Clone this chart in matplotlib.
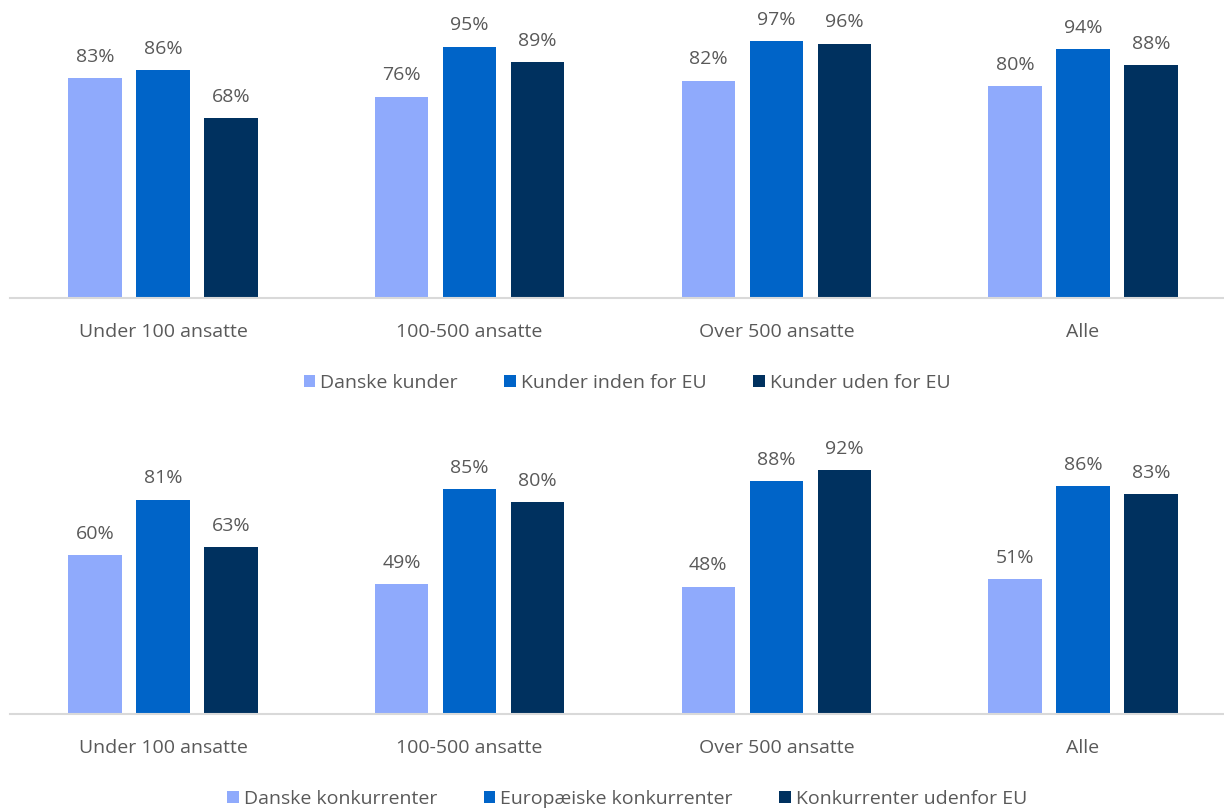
import matplotlib
matplotlib.use("Agg")
import matplotlib.pyplot as plt
import numpy as np

plt.rcParams['font.family'] = ['Open Sans', 'DejaVu Sans']

categories = ["Under 100 ansatte", "100-500 ansatte", "Over 500 ansatte", "Alle"]

top_series = ["Danske kunder", "Kunder inden for EU", "Kunder uden for EU"]
top_danske = [83, 76, 82, 80]
top_inden = [86, 95, 97, 94]
top_uden = [68, 89, 96, 88]

bottom_series = ["Danske konkurrenter", "Europæiske konkurrenter", "Konkurrenter udenfor EU"]
bottom_danske = [60, 49, 48, 51]
bottom_europa = [81, 85, 88, 86]
bottom_udenfor = [63, 80, 92, 83]

colors = ["#8FAAFC", "#0064C8", "#00315F"]
text_color = "#595959"

fig = plt.figure(figsize=(12.24, 8.08), dpi=100)

W = 1224.0
H = 808.0
ax_left = 9.7 / W
ax_width = (1236.3 - 9.7) / W
ax_h = 264.7 / H
FS = 14


def draw(ax, series_names, series_vals, legend_y):
    x = np.arange(len(categories))
    bw = 0.174
    off = 0.2217
    handles = []
    for i, (name, vals) in enumerate(zip(series_names, series_vals)):
        bars = ax.bar(x + (i - 1) * off, vals, width=bw, color=colors[i], label=name, zorder=2)
        handles.append(bars)
        for xi, v in zip(x + (i - 1) * off, vals):
            ax.annotate(f"{v}%", (xi, v), xytext=(0, 9), textcoords="offset points",
                        ha="center", va="bottom", fontsize=FS, color=text_color)
    ax.set_xlim(-0.5, 3.5)
    ax.set_ylim(0, 100)
    ax.set_yticks([])
    ax.set_xticks(x)
    ax.set_xticklabels(categories, fontsize=FS, color=text_color)
    ax.tick_params(axis="x", length=0, pad=18)
    for s in ["top", "right", "left"]:
        ax.spines[s].set_visible(False)
    ax.spines["bottom"].set_color("#D9D9D9")
    ax.spines["bottom"].set_linewidth(1.5)
    ax.patch.set_alpha(0)
    fig.legend(handles=handles, labels=series_names, loc="center",
               bbox_to_anchor=(627 / W, 1 - legend_y / H), ncol=3, frameon=False,
               fontsize=FS, labelcolor=text_color, handlelength=0.6, handleheight=0.6,
               handletextpad=0.25, columnspacing=2.4, borderpad=0)


ax1 = fig.add_axes([ax_left, (H - 298) / H, ax_width, ax_h])
draw(ax1, top_series, [top_danske, top_inden, top_uden], 383)

ax2 = fig.add_axes([ax_left, (H - 714) / H, ax_width, ax_h])
draw(ax2, bottom_series, [bottom_danske, bottom_europa, bottom_udenfor], 799)

fig.savefig("out.png", dpi=100)
